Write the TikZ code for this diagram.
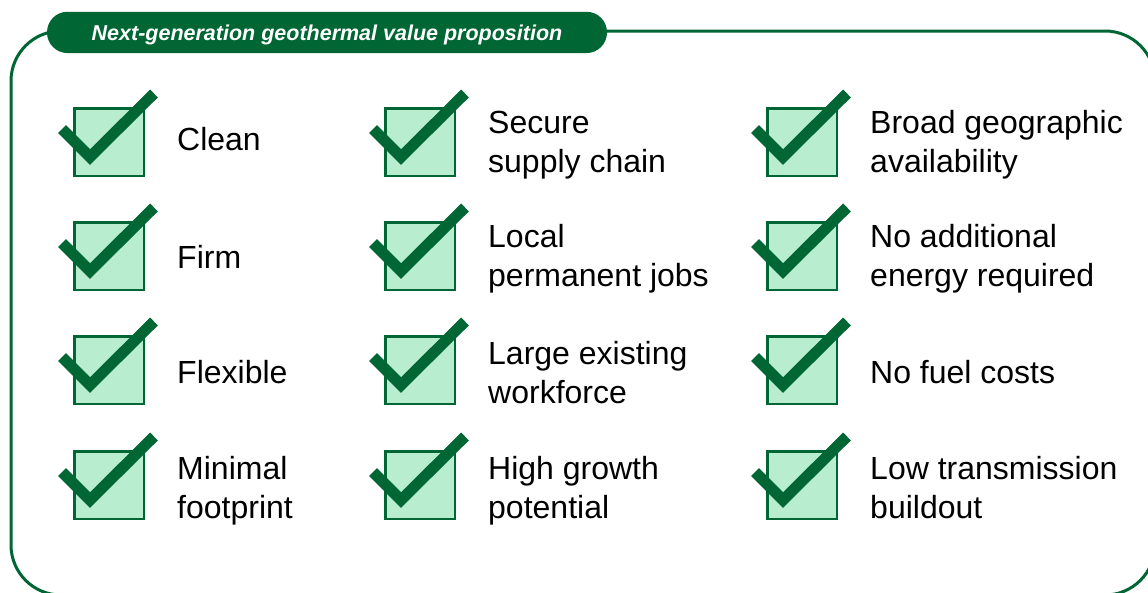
\documentclass[tikz,border=0pt]{standalone}
\usepackage{fontspec}
\setmainfont{Liberation Sans}
\definecolor{dg}{RGB}{0,102,51}
\definecolor{lg}{RGB}{184,237,208}
\newcommand{\lh}{\rule{0pt}{24pt}}
\begin{document}
\begin{tikzpicture}[x=1pt,y=-1pt,
  frame/.style={draw=dg, line width=3pt, rounded corners=50pt},
  pill/.style={fill=dg, rounded corners=20.5pt, minimum width=560pt, minimum height=41.3pt, inner sep=0pt,
    text height=17.6pt, text depth=2.4pt,
    text=white, font=\fontsize{21.5}{24}\selectfont\bfseries\itshape},
  chkbox/.style={draw=dg, fill=lg, line width=2.5pt, minimum width=69.5pt, minimum height=67.5pt, inner sep=0pt},
  tick/.style={draw=dg, line width=11pt, line cap=butt, line join=miter},
  lbl/.style={anchor=north west, align=left, font=\fontsize{32}{39}\selectfont, inner sep=0pt}]
\useasboundingbox (0,0) rectangle (1148,592);
\begin{scope}
\clip (0,0) rectangle (1148,592);
\draw[frame] (11,31) rectangle (1155,595);
\end{scope}
\node[pill] (title) at (327,32.4) {Next-generation geothermal value proposition};
\foreach \r/\y in {1/142,2/256,3/370,4/485}{
  \foreach \c/\x in {1/109,2/420,3/802}{
    \node[chkbox] (box\r\c) at (\x,\y) {};
    \draw[tick] ([shift={(-47,-13)}]box\r\c.center) -- ([shift={(-19,15)}]box\r\c.center) -- ([shift={(45,-48.5)}]box\r\c.center);
  }
}
% first-line baseline = y + 24
\node[lbl] (l11) at (177,126) {\lh Clean};
\node[lbl] (l12) at (488,109) {\lh Secure\\supply chain};
\node[lbl] (l13) at (870,109) {\lh Broad geographic\\availability};
\node[lbl] (l21) at (177,244) {\lh Firm};
\node[lbl] (l22) at (488,223) {\lh Local\\permanent jobs};
\node[lbl] (l23) at (870,223) {\lh No additional\\energy required};
\node[lbl] (l31) at (177,359.5) {\lh Flexible};
\node[lbl] (l32) at (488,340.5) {\lh Large existing\\workforce};
\node[lbl] (l33) at (870,359.5) {\lh No fuel costs};
\node[lbl] (l41) at (177,455.5) {\lh Minimal\\footprint};
\node[lbl] (l42) at (488,455.5) {\lh High growth\\potential};
\node[lbl] (l43) at (870,455.5) {\lh Low transmission\\buildout};
\end{tikzpicture}
\end{document}
